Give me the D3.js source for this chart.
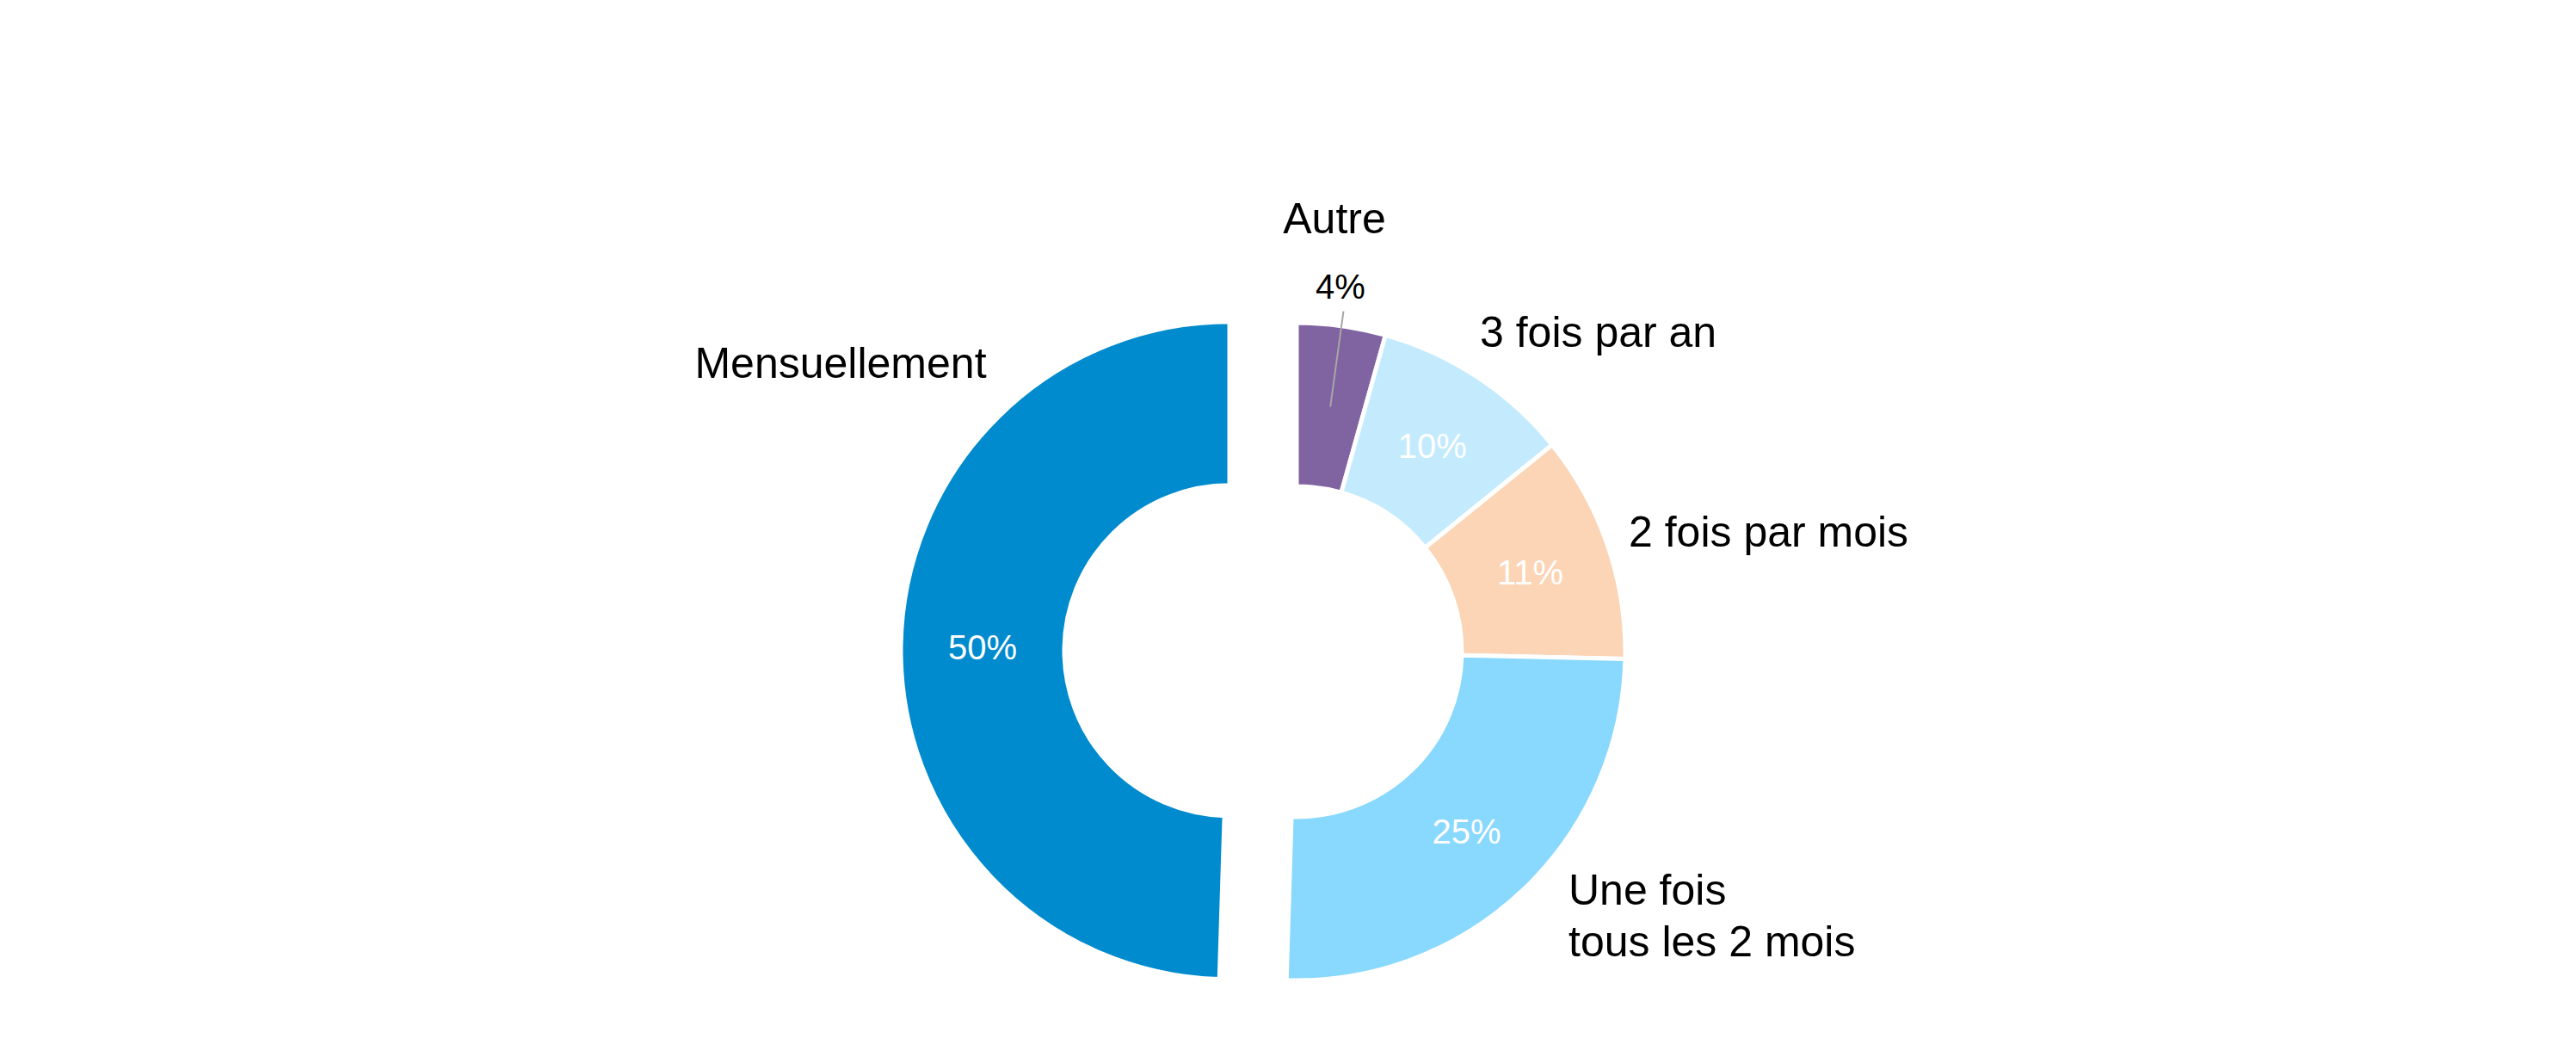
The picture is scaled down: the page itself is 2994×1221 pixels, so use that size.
<!DOCTYPE html>
<html>
<head>
<meta charset="utf-8">
<script src="https://cdn.jsdelivr.net/npm/d3@7"></script>
<style>
    body { margin: 0; background: #fff; }
    text { font-family: "Liberation Sans", Arial, sans-serif; }
</style>
</head>
<body>
<div id="chart-area"></div>
<script>
// donut chart - frequence (parts en %)

// data
var categories = ['Autre', '3 fois par an', '2 fois par mois', 'Une fois\ntous les 2 mois', 'Mensuellement'];
var shares = [4.36, 9.82, 11.17, 25.14, 49.51];
var colorsArr = ['#8064A2', '#C4EBFD', '#FBD5B5', '#89D8FE', '#008BCE'];
var explodedCat = 'Mensuellement';

// layout
var width = 2994, height = 1221;
var cx = 1507, cy = 757;
var outerR = 382, innerR = 192;
var explode = 78;

// label placement, relative to pie centre (px), x = anchor point, y = first baseline
var catLabelPos = [
    { x: 44, y: -486, anchor: 'middle' },
    { x: 213, y: -354, anchor: 'start' },
    { x: 386, y: -122, anchor: 'start' },
    { x: 316, y: 294, anchor: 'start' },
    { x: -530, y: -318, anchor: 'middle' }
];
var outsidePct = { x: 51, y: -410 }; // 4% label sits outside, with a leader line

var svg = d3.select('#chart-area')
    .append('svg')
        .attr('width', width)
        .attr('height', height);

var g = svg.append('g')
    .attr('transform', 'translate(' + cx + ',' + cy + ')');

var color = d3.scaleOrdinal().domain(categories).range(colorsArr);

var pie = d3.pie().sort(null).value(function(d) { return d.value; });
var arc = d3.arc().innerRadius(innerR).outerRadius(outerR);

var pieData = pie(categories.map(function(c, i) { return { cat: c, value: shares[i] }; }));

function offset(d) {
    if (d.data.cat !== explodedCat) return [0, 0];
    var mid = (d.startAngle + d.endAngle) / 2;
    return [Math.sin(mid) * explode, -Math.cos(mid) * explode];
}

// slices
var slices = g.selectAll('g.slice')
    .data(pieData)
    .enter()
    .append('g')
        .attr('class', 'slice')
        .attr('transform', function(d) { var o = offset(d); return 'translate(' + o[0] + ',' + o[1] + ')'; });

slices.append('path')
    .attr('d', arc)
    .attr('fill', function(d) { return color(d.data.cat); })
    .attr('stroke', '#fff')
    .attr('stroke-width', 5)
    .attr('stroke-linejoin', 'miter');

// percent labels
slices.each(function(d, i) {
    var el = d3.select(this);
    var txt = Math.round(d.data.value) + '%';
    var c = arc.centroid(d);

    if (i === 0) {
        // small slice: label outside + leader line
        var mid = (d.startAngle + d.endAngle) / 2;
        var rEnd = 399;
        el.append('line')
            .attr('x1', c[0]).attr('y1', c[1])
            .attr('x2', Math.sin(mid) * rEnd).attr('y2', -Math.cos(mid) * rEnd)
            .attr('stroke', '#A6A6A6')
            .attr('stroke-width', 2);
        el.append('text')
            .attr('x', outsidePct.x)
            .attr('y', outsidePct.y)
            .attr('text-anchor', 'middle')
            .attr('font-size', 40)
            .attr('fill', '#000')
            .text(txt);
    } else {
        el.append('text')
            .attr('x', c[0])
            .attr('y', c[1])
            .attr('dy', '0.36em')
            .attr('text-anchor', 'middle')
            .attr('font-size', 40)
            .attr('fill', '#fff')
            .text(txt);
    }
});

// category labels
categories.forEach(function(cat, i) {
    var p = catLabelPos[i];
    var t = g.append('text')
        .attr('x', p.x)
        .attr('y', p.y)
        .attr('text-anchor', p.anchor)
        .attr('font-size', 50)
        .attr('fill', '#000');

    cat.split('\n').forEach(function(line, j) {
        t.append('tspan')
            .attr('x', p.x)
            .attr('dy', j === 0 ? 0 : 60)
            .text(line);
    });
});
</script>
</body>
</html>
